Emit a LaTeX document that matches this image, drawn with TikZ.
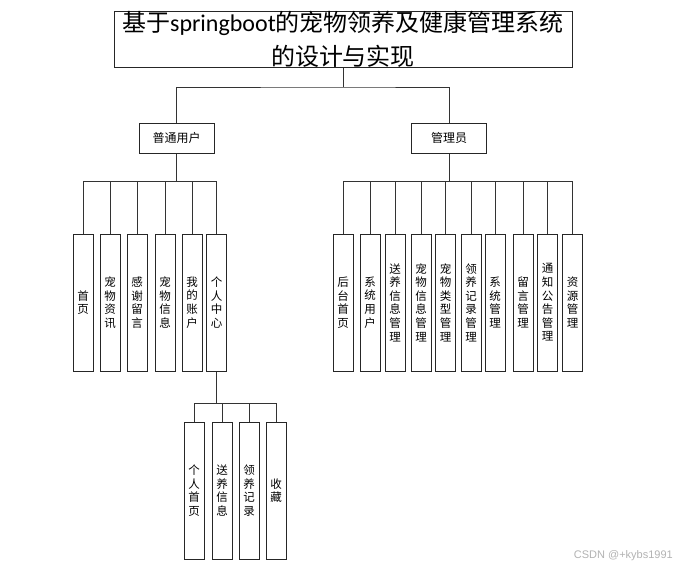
\documentclass[tikz,border=0pt]{standalone}
\usepackage{fontspec}
\newfontfamily\cjk{Noto Sans CJK SC}
\newfontfamily\latinfont{Carlito}
\newfontfamily\wmfont{Liberation Sans}
\begin{document}
\begin{tikzpicture}[x=1pt,y=-1pt,
  conn/.style={draw=black!80,line width=1pt},
  boxv/.style={draw=black!85,line width=1pt,minimum width=20pt,minimum height=137pt,inner sep=0pt,
    align=center,font=\cjk\fontsize{11.5}{13.6}\selectfont},
  role/.style={draw=black!85,line width=1pt,minimum width=75pt,minimum height=30pt,inner sep=0pt,
    font=\cjk\fontsize{12}{14}\selectfont},
  titlebox/.style={draw=black!85,line width=1pt,minimum width=458pt,minimum height=55pt,inner sep=0pt,
    align=center,font=\cjk\fontsize{24}{34}\selectfont}]
\useasboundingbox (0,0) rectangle (686,570);
% title
\node[titlebox] (title) at (343,39.5) {基于{\latinfont springboot}的宠物领养及健康管理系统\\的设计与实现};
% roles
\node[role] (user) at (176.5,138) {普通用户};
\node[role] (admin) at (449,138) {管理员};
\coordinate (tbus) at (343,87);
\draw[conn] (title.south) -- (tbus);
\draw[conn] (user.north) |- (tbus) -| (admin.north);
% user children
\foreach \n/\x/\t in {u1/83/首\\页, u2/110/宠\\物\\资\\讯, u3/137/感\\谢\\留\\言, u4/165/宠\\物\\信\\息, u5/192/我\\的\\账\\户, u6/216.5/个\\人\\中\\心}{
  \node[boxv] (\n) at (\x,302.5) {\t};
}
\coordinate (ubus) at (176.5,181);
\draw[conn] (user.south) -- (ubus);
\foreach \n in {u1,u2,u3,u4,u5,u6}{ \draw[conn] (\n.north) |- (ubus); }
% admin children
\foreach \n/\x/\t in {a1/343/后\\台\\首\\页, a2/370/系\\统\\用\\户, a3/395/送\\养\\信\\息\\管\\理, a4/421/宠\\物\\信\\息\\管\\理, a5/445.5/宠\\物\\类\\型\\管\\理, a6/471/领\\养\\记\\录\\管\\理, a7/495/系\\统\\管\\理, a8/523/留\\言\\管\\理, a9/547.5/通\\知\\公\\告\\管\\理, a10/572.5/资\\源\\管\\理}{
  \node[boxv] (\n) at (\x,302.5) {\t};
}
\coordinate (abus) at (449,181);
\draw[conn] (admin.south) -- (abus);
\foreach \n in {a1,a2,a3,a4,a5,a6,a7,a8,a9,a10}{ \draw[conn] (\n.north) |- (abus); }
% personal center children
\foreach \n/\x/\t in {p1/194/个\\人\\首\\页, p2/222/送\\养\\信\\息, p3/249/领\\养\\记\\录, p4/276/收\\藏}{
  \node[boxv] (\n) at (\x,490.5) {\t};
}
\coordinate (pbus) at (216.5,403);
\draw[conn] (u6.south) -- (pbus);
\foreach \n in {p1,p2,p3,p4}{ \draw[conn] (\n.north) |- (pbus); }
% watermark
\node[font=\wmfont\fontsize{11}{13}\selectfont,text=black!30,anchor=east,inner sep=0pt] (wm) at (673,556) {CSDN @+kybs1991};
\end{tikzpicture}
\end{document}
